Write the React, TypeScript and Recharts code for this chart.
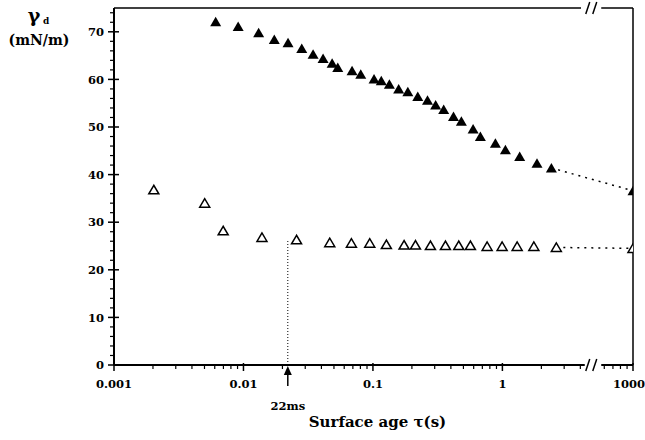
import * as React from 'react';
import { ScatterChart, Scatter, XAxis, YAxis, ReferenceLine, ReferenceDot } from 'recharts';

// surface age (s) and dynamic surface tension (mN/m)
const filledAge = [0.0061, 0.0091, 0.0131, 0.0173, 0.0221, 0.0282, 0.0345, 0.0412, 0.0484, 0.0535, 0.069, 0.0805, 0.102, 0.116, 0.134, 0.158, 0.186, 0.222, 0.264, 0.305, 0.352, 0.419, 0.482, 0.594, 0.676, 0.883, 1.055, 1.36, 1.85, 2.39, 1000];
const filledGamma = [72.1, 71.1, 69.8, 68.4, 67.7, 66.5, 65.3, 64.4, 63.4, 62.5, 61.8, 61.1, 60.1, 59.7, 59.0, 58.0, 57.4, 56.4, 55.6, 54.6, 53.7, 52.2, 51.2, 49.6, 48.0, 46.6, 45.2, 43.8, 42.4, 41.4, 36.6];

const openAge = [0.00203, 0.00502, 0.00697, 0.0139, 0.0257, 0.0464, 0.0682, 0.0945, 0.127, 0.174, 0.213, 0.278, 0.363, 0.46, 0.566, 0.762, 0.995, 1.3, 1.75, 2.61, 1000];
const openGamma = [36.8, 34.0, 28.2, 26.8, 26.3, 25.7, 25.6, 25.6, 25.3, 25.2, 25.2, 25.1, 25.1, 25.1, 25.1, 24.9, 24.9, 24.9, 24.9, 24.7, 24.5];

const xMajorAges = [0.001, 0.01, 0.1, 1, 1000];
const xMajorLabels = ['0.001', '0.01', '0.1', '1', '1000'];
const xMinorAges = [
  0.002, 0.003, 0.004, 0.005, 0.006, 0.007, 0.008, 0.009,
  0.02, 0.03, 0.04, 0.05, 0.06, 0.07, 0.08, 0.09,
  0.2, 0.3, 0.4, 0.5, 0.6, 0.7, 0.8, 0.9,
  2, 3, 4,
  600, 700, 800, 900,
];
const markerAge = 0.022;
const markerLabel = '22ms';
const markerGamma = 26.3;

const yMajor = [0, 10, 20, 30, 40, 50, 60, 70];
const yMinor = [2, 4, 6, 8, 12, 14, 16, 18, 22, 24, 26, 28, 32, 34, 36, 38, 42, 44, 46, 48, 52, 54, 56, 58, 62, 64, 66, 68, 72, 74];

// broken axis: everything past the break is pulled back by ~2 decades
const BREAK_SHIFT = 98;
const axisPos = (t: number) => (t > 100 ? t / BREAK_SHIFT : t);
const X_MIN = 0.001;
const X_MAX = axisPos(1000);
const BREAK_AT = 4.9;
const GAP_LEFT = 4.35;
const GAP_RIGHT = 5.8;
const Y_MAX = 75;

const FONT = '"DejaVu Serif", "Liberation Serif", serif';
const TICK_FONT = 11.5;

const filledPoints = filledAge.map((t, i) => ({ x: axisPos(t), y: filledGamma[i] }));
const openPoints = openAge.map((t, i) => ({ x: axisPos(t), y: openGamma[i] }));

type TickDef = { pos: number; kind: 'major' | 'minor' | 'marker'; label?: string };
const xTickTable: TickDef[] = [
  ...xMajorAges.map((t, i) => ({ pos: axisPos(t), kind: 'major' as const, label: xMajorLabels[i] })),
  ...xMinorAges.map((t) => ({ pos: axisPos(t), kind: 'minor' as const })),
  { pos: markerAge, kind: 'marker', label: markerLabel },
];

const XTick = (props: any) => {
  const { x, y, payload } = props;
  const def = xTickTable.find((d) => Math.abs(d.pos - payload.value) < 1e-9);
  if (!def) return <g />;
  if (def.kind === 'marker') {
    return (
      <g>
        <line x1={x} y1={y + 8} x2={x} y2={y + 21} stroke="#000" strokeWidth={1.5} />
        <path d={`M${x},${y + 1} L${x - 4},${y + 10} L${x + 4},${y + 10} Z`} fill="#000" />
        <text x={x} y={y + 45} textAnchor="middle" fontFamily={FONT} fontWeight="bold" fontSize={TICK_FONT} fill="#000">
          {def.label}
        </text>
      </g>
    );
  }
  if (def.kind === 'minor') {
    return <line x1={x} y1={y} x2={x} y2={y + 4} stroke="#000" strokeWidth={1.2} />;
  }
  const isLast = def.pos === X_MAX;
  return (
    <g>
      <line x1={x} y1={y - 2} x2={x} y2={y + 6} stroke="#000" strokeWidth={1.5} />
      <text
        x={isLast ? x + 12 : x}
        y={y + 23}
        textAnchor={isLast ? 'end' : 'middle'}
        fontFamily={FONT}
        fontWeight="bold"
        fontSize={TICK_FONT}
        fill="#000"
      >
        {def.label}
      </text>
    </g>
  );
};

const YTick = (props: any) => {
  const { x, y, payload } = props;
  const v = payload.value as number;
  if (yMajor.indexOf(v) < 0) {
    return <line x1={x - 4} y1={y} x2={x} y2={y} stroke="#000" strokeWidth={1.2} />;
  }
  return (
    <g>
      <line x1={x - 6} y1={y} x2={x + 5} y2={y} stroke="#000" strokeWidth={1.5} />
      <text x={x - 10} y={y + 4.2} textAnchor="end" fontFamily={FONT} fontWeight="bold" fontSize={TICK_FONT} fill="#000">
        {v}
      </text>
    </g>
  );
};

const FilledTriangle = (props: any) => {
  const { cx, cy } = props;
  return <path d={`M${cx},${cy - 5} L${cx - 5.5},${cy + 4.5} L${cx + 5.5},${cy + 4.5} Z`} fill="#000" />;
};

const OpenTriangle = (props: any) => {
  const { cx, cy } = props;
  return (
    <path
      d={`M${cx},${cy - 4.5} L${cx - 5},${cy + 4} L${cx + 5},${cy + 4} Z`}
      fill="#fff"
      stroke="#000"
      strokeWidth={1.5}
    />
  );
};

const NoDot = () => <g />;

const BreakMark = (props: any) => {
  const { cx, cy } = props;
  return (
    <g>
      <rect x={cx - 7} y={cy - 3} width={14} height={6} fill="#fff" />
      <line x1={cx - 6} y1={cy + 6} x2={cx - 2} y2={cy - 6} stroke="#000" strokeWidth={1.5} />
      <line x1={cx + 1} y1={cy + 6} x2={cx + 5} y2={cy - 6} stroke="#000" strokeWidth={1.5} />
    </g>
  );
};

const YLabel = () => (
  <g fontFamily={FONT} fontWeight="bold" fill="#000">
    <text x={34} y={22} textAnchor="middle" fontSize={19}>γ</text>
    <text x={43} y={24} fontSize={9}>d</text>
    <text x={39} y={45} textAnchor="middle" fontSize={14}>(mN/m)</text>
  </g>
);

const XLabel = (props: any) => {
  const { viewBox } = props;
  return (
    <text
      x={viewBox.x + viewBox.width / 2 + 4}
      y={viewBox.y + 62}
      textAnchor="middle"
      fontFamily={FONT}
      fontWeight="bold"
      fontSize={15}
      fill="#000"
    >
      Surface age τ(s)
    </text>
  );
};

export default function App() {
  return (
    <div style={{ position: 'absolute', left: 0, top: 0, width: 645, height: 440, background: '#fff' }}>
      <ScatterChart width={645} height={440} margin={{ top: 8, right: 12, bottom: 0, left: 0 }}>
        <XAxis
          type="number"
          dataKey="x"
          scale="log"
          domain={[X_MIN, X_MAX]}
          allowDataOverflow
          ticks={xTickTable.map((d) => d.pos)}
          interval={0}
          tick={<XTick />}
          tickLine={false}
          axisLine={false}
          tickSize={0}
          tickMargin={0}
          height={75}
          label={{ content: <XLabel /> }}
        />
        <YAxis
          type="number"
          dataKey="y"
          domain={[0, Y_MAX]}
          ticks={[...yMajor, ...yMinor]}
          interval={0}
          tick={<YTick />}
          tickLine={false}
          axisLine={{ stroke: '#000', strokeWidth: 2 }}
          tickSize={0}
          tickMargin={0}
          width={114}
          label={{ content: <YLabel /> }}
        />
        {/* bottom axis and top frame, both broken */}
        <ReferenceLine segment={[{ x: X_MIN, y: 0 }, { x: GAP_LEFT, y: 0 }]} stroke="#000" strokeWidth={2} />
        <ReferenceLine segment={[{ x: GAP_RIGHT, y: 0 }, { x: X_MAX, y: 0 }]} stroke="#000" strokeWidth={2} />
        <ReferenceLine segment={[{ x: X_MIN, y: Y_MAX }, { x: GAP_LEFT - 0.3, y: Y_MAX }]} stroke="#000" strokeWidth={1.5} />
        <ReferenceLine segment={[{ x: GAP_RIGHT, y: Y_MAX }, { x: X_MAX, y: Y_MAX }]} stroke="#000" strokeWidth={1.5} />
        <ReferenceLine x={X_MAX} stroke="#000" strokeWidth={1.5} />
        <ReferenceDot x={BREAK_AT} y={0} r={1} shape={<BreakMark />} />
        <ReferenceDot x={BREAK_AT} y={Y_MAX} r={1} shape={<BreakMark />} />
        {/* 22 ms marker */}
        <ReferenceLine
          segment={[{ x: markerAge, y: 0 }, { x: markerAge, y: markerGamma }]}
          stroke="#000"
          strokeWidth={1}
          strokeDasharray="1 2"
        />
        {/* dotted links to the long-time values */}
        <Scatter
          data={filledPoints.slice(-2)}
          line={{ stroke: '#000', strokeWidth: 1.5, strokeDasharray: '2 5' }}
          shape={<NoDot />}
          isAnimationActive={false}
        />
        <Scatter
          data={openPoints.slice(-2)}
          line={{ stroke: '#000', strokeWidth: 1.5, strokeDasharray: '2 5' }}
          shape={<NoDot />}
          isAnimationActive={false}
        />
        <Scatter data={filledPoints} shape={<FilledTriangle />} isAnimationActive={false} />
        <Scatter data={openPoints} shape={<OpenTriangle />} isAnimationActive={false} />
      </ScatterChart>
    </div>
  );
}
